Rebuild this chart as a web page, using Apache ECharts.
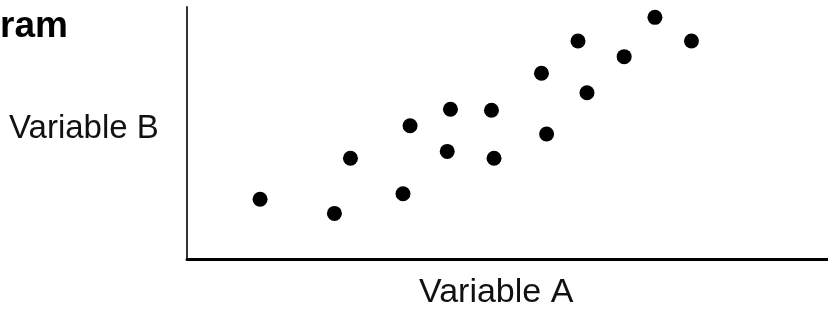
<!DOCTYPE html>
<html>
<head>
<meta charset="utf-8">
<script src="https://cdn.jsdelivr.net/npm/echarts@6/dist/echarts.min.js"></script>
<style>
  html, body { margin: 0; padding: 0; background: #fff; }
  #chart { width: 828px; height: 311px; }
</style>
</head>
<body>
<div id="chart"></div>
<script>
// data (axes have no scale, 0-100 used)
var varA = [11.4, 23.0, 25.5, 33.7, 34.8, 40.6, 41.1, 47.5, 47.9, 55.3, 56.1, 61.0, 62.4, 68.2, 73.0, 78.7];
var varB = [23.7, 18.1, 40.0, 25.9, 52.9, 42.7, 59.4, 59.0, 40.0, 73.7, 49.6, 86.5, 66.0, 80.3, 95.9, 86.5];
var xLabel = 'Variable A';
var yLabel = 'Variable B';
var heading = 'ram';

var points = varA.map(function (a, i) { return [a, varB[i]]; });

var chart = echarts.init(document.getElementById('chart'));
chart.setOption({
  animation: false,
  grid: { left: 187, right: 0, top: 7, bottom: 52 },
  xAxis: {
    type: 'value', min: 0, max: 100,
    axisLine: { lineStyle: { color: '#000', width: 3 } },
    axisTick: { show: false },
    axisLabel: { show: false },
    splitLine: { show: false }
  },
  yAxis: {
    type: 'value', min: 0, max: 100,
    axisLine: { show: true, lineStyle: { color: '#333', width: 2 } },
    axisTick: { show: false },
    axisLabel: { show: false },
    splitLine: { show: false }
  },
  graphic: [
    {
      type: 'text', left: 0, top: 8,
      style: { text: heading, fill: '#000', font: 'bold 37px "Liberation Sans", Arial, sans-serif' }
    },
    {
      type: 'text', left: 9, top: 112,
      style: { text: yLabel, fill: '#111', font: '33px "Liberation Sans", Arial, sans-serif' }
    },
    {
      type: 'text', left: 419, top: 276,
      style: { text: xLabel, fill: '#111', font: '34px "Liberation Sans", Arial, sans-serif' }
    }
  ],
  series: [{
    type: 'scatter',
    data: points,
    symbolSize: 15,
    itemStyle: { color: '#000', opacity: 1 }
  }]
});
</script>
</body>
</html>
